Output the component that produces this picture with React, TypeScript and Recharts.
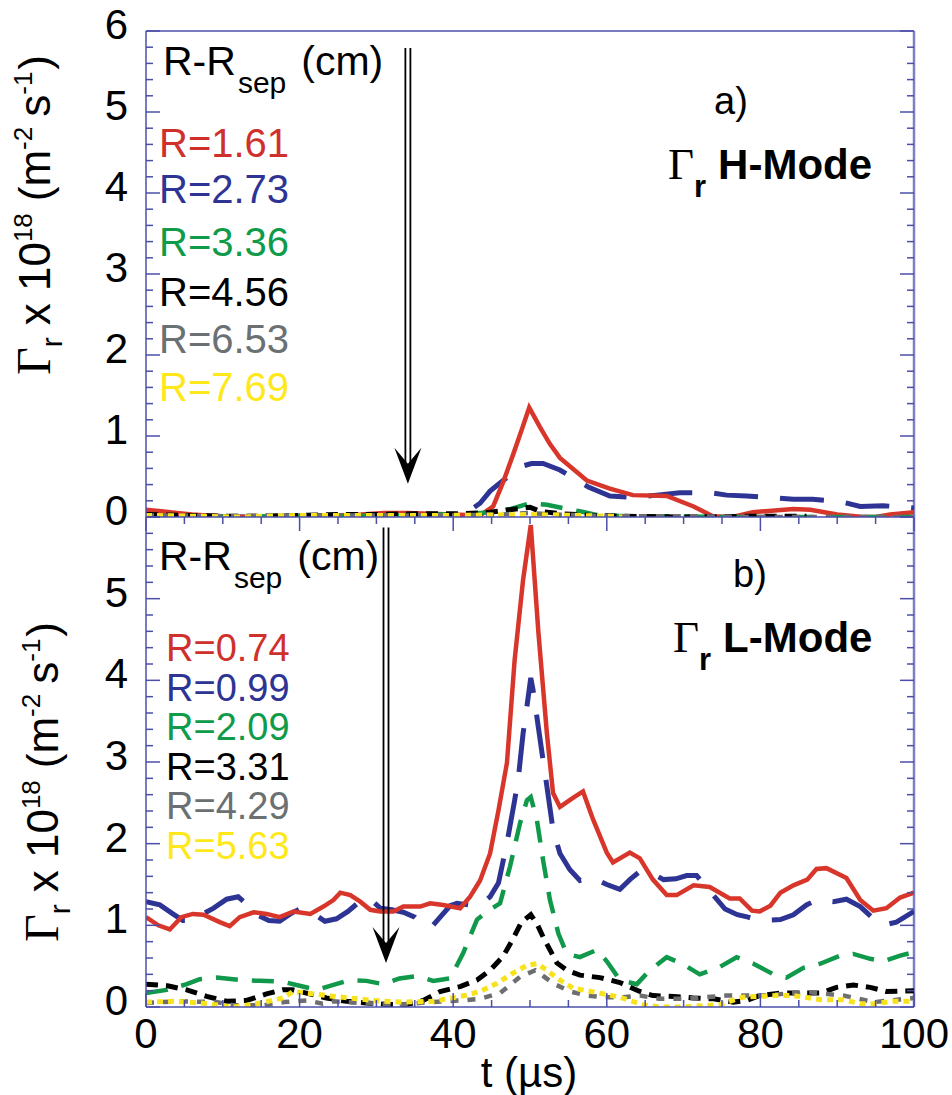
import { LineChart, Line, XAxis, YAxis, ReferenceLine } from "recharts";

const SANS = "'Liberation Sans', Arial, Helvetica, sans-serif";
const SERIF = "'Liberation Serif', 'Times New Roman', serif";
const AXIS = "#4b4fa8";

// axis ticks
const X_TICKS = [0, 5, 10, 15, 20, 25, 30, 35, 40, 45, 50, 55, 60, 65, 70, 75, 80, 85, 90, 95, 100];
const X_LABELS = [0, 20, 40, 60, 80, 100];
const Y_TICKS = [
  0, 0.2, 0.4, 0.6, 0.8, 1, 1.2, 1.4, 1.6, 1.8, 2, 2.2, 2.4, 2.6, 2.8, 3, 3.2, 3.4, 3.6, 3.8, 4,
  4.2, 4.4, 4.6, 4.8, 5, 5.2, 5.4, 5.6, 5.8, 6,
];
const Y_LABELS_H = [0, 1, 2, 3, 4, 5, 6];
const Y_LABELS_L = [0, 1, 2, 3, 4, 5];

// a) H-mode, [t (us), flux]
const hR161 = [
  [0, 0.09], [2, 0.07], [4, 0.05], [6, 0.03], [8, 0.02], [10, 0.01], [13, 0], [16, 0], [19, 0.01],
  [22, 0.01], [25, 0.02], [28, 0.03], [31, 0.05], [34, 0.05], [37, 0.04], [40, 0.03], [43.5, 0.02],
  [45.2, 0.13], [46.5, 0.43], [47.8, 0.77], [48.9, 1.07], [49.9, 1.35], [51.3, 1.11], [52.6, 0.9],
  [53.9, 0.73], [57.4, 0.45], [60.4, 0.35], [63.4, 0.27], [67.8, 0.26], [71.3, 0.13], [73.8, 0.01],
  [76.4, 0], [79, 0.06], [84.3, 0.1], [86.5, 0.09], [90, 0.03], [93.4, 0], [95, 0], [96.9, 0.03], [100, 0.06],
];
const hR273 = [
  [0, 0.03], [6, 0.01], [12, 0], [18, 0.01], [24, 0.02], [30, 0.02], [36, 0.02], [40, 0.03], [42, 0.07],
  [43.5, 0.17], [44.8, 0.32], [46.5, 0.45], [48.7, 0.62], [50.2, 0.66], [51.7, 0.66], [53.9, 0.58],
  [57.6, 0.37], [60.4, 0.26], [63.4, 0.24], [66.5, 0.27], [69.5, 0.3], [73.4, 0.3], [75.6, 0.27],
  [78.2, 0.26], [81, 0.24], [84.3, 0.22], [86.8, 0.22], [90.4, 0.19], [93, 0.13], [96, 0.14], [100, 0.11],
];
const hR336 = [
  [0, 0.01], [8, 0], [16, 0.01], [24, 0.01], [32, 0.02], [38, 0.03], [42, 0.04], [45, 0.06], [47.5, 0.1],
  [50, 0.17], [52.2, 0.15], [54.3, 0.11], [56.5, 0.07], [59, 0.02], [63, 0.01], [68, 0.01], [75, 0],
  [85, 0], [100, 0],
];
const hR456 = [
  [0, 0.03], [5, 0.02], [10, 0.01], [15, 0.01], [20, 0.02], [25, 0.03], [30, 0.03], [35, 0.04],
  [40, 0.04], [44, 0.05], [46.5, 0.08], [49, 0.11], [50, 0.12], [51.3, 0.07], [54, 0.04], [58, 0.02],
  [62, 0.01], [70, 0], [80, 0.01], [86, 0.01],
];
const hR653 = [
  [0, 0.02], [10, 0.01], [20, 0.02], [30, 0.02], [40, 0.02], [46, 0.03], [50, 0.05], [53, 0.03],
  [60, 0.01], [70, 0.01], [80, 0], [90, 0], [100, 0],
];
const hR769 = [
  [0, 0.02], [6, 0.01], [12, 0], [20, 0.02], [30, 0.02], [40, 0.02], [50, 0.03], [56, 0.02], [60, 0.01], [62, 0],
];

// b) L-mode
const lR074 = [
  [0, 1.1], [1.6, 1.0], [3.1, 0.95], [4.6, 1.1], [6.1, 1.14], [7.5, 1.13], [9.6, 1.04], [10.9, 0.99],
  [12.2, 1.1], [14, 1.16], [15.7, 1.14], [17.4, 1.1], [19.2, 1.17], [21.4, 1.14], [23.1, 1.23],
  [24.4, 1.31], [25.3, 1.4], [26.6, 1.37], [27.9, 1.29], [29.2, 1.19], [30.5, 1.17], [32.2, 1.17],
  [33.5, 1.23], [35.7, 1.23], [37, 1.27], [38.7, 1.25], [40.9, 1.21], [42.2, 1.35], [43.5, 1.55],
  [44.8, 1.88], [45.9, 2.41], [47, 2.99], [48, 4.25], [49.1, 5.23], [50.1, 5.9], [51.1, 4.58],
  [52.2, 3.35], [53, 2.62], [53.9, 2.45], [55.6, 2.56], [56.9, 2.64], [58.2, 2.3], [60, 1.89],
  [60.8, 1.77], [63, 1.89], [64.3, 1.82], [66, 1.56], [67.8, 1.37], [69.1, 1.37], [71.3, 1.49],
  [73.4, 1.47], [76, 1.33], [77.3, 1.33], [78.9, 1.18], [79.9, 1.17], [81.3, 1.24], [82.6, 1.4],
  [84.3, 1.49], [86.1, 1.56], [87.3, 1.69], [88.6, 1.7], [91.2, 1.58], [93, 1.31], [94.7, 1.18],
  [96.4, 1.21], [98.2, 1.34], [100, 1.4],
];
const lR099 = [
  [0, 1.29], [1.8, 1.25], [3.5, 1.14], [4.8, 1.06], [5.7, 1.06], [7.2, 1.13], [8.8, 1.21], [10.5, 1.32],
  [12, 1.35], [13.1, 1.26], [14.6, 1.12], [16, 1.06], [17.4, 1.05], [18.8, 1.14], [20, 1.2], [20.9, 1.19],
  [22.2, 1.12], [23.3, 1.05], [24.8, 1.08], [26.3, 1.17], [28.3, 1.33], [29.2, 1.32], [30.5, 1.21],
  [32, 1.19], [33.5, 1.16], [35, 1.1], [36.1, 1.01], [37.2, 0.98], [38.3, 1.1], [39.6, 1.24], [40.5, 1.27],
  [42, 1.25], [43.5, 1.25], [44.8, 1.35], [45.9, 1.52], [47, 2.01], [48, 2.53], [48.5, 2.82], [49.1, 3.35],
  [49.6, 3.68], [50.1, 4.03], [50.4, 3.88], [50.9, 3.55], [51.7, 3.02], [52.2, 2.7], [53, 2.17],
  [53.9, 1.88], [55.2, 1.68], [56.5, 1.55], [58.2, 1.58], [60, 1.5], [61.7, 1.44], [63, 1.56],
  [64.3, 1.66], [65.6, 1.65], [67.4, 1.56], [69, 1.57], [70.4, 1.61], [71.7, 1.61], [73.4, 1.42],
  [75.4, 1.2], [77, 1.13], [78.4, 1.1], [79.9, 1.06], [82.6, 1.07], [84.3, 1.13], [86, 1.25], [87.3, 1.31],
  [89.5, 1.29], [91.2, 1.32], [93, 1.23], [94.5, 1.1], [96, 1.0], [97.7, 1.04], [100, 1.17],
];
const lR209 = [
  [0, 0.17], [2.7, 0.21], [5.3, 0.28], [7, 0.34], [9.2, 0.36], [12.2, 0.33], [14.8, 0.32], [17.8, 0.31],
  [20, 0.26], [22.2, 0.21], [24.4, 0.27], [26.6, 0.33], [28.7, 0.32], [30.9, 0.28], [33, 0.35],
  [35.3, 0.38], [37.4, 0.32], [39.6, 0.35], [41.3, 0.66], [43.1, 1.07], [44.4, 1.17], [46.1, 1.27],
  [47.4, 1.72], [48.7, 2.25], [49.6, 2.53], [50.1, 2.57], [50.9, 2.29], [51.7, 1.8], [52.6, 1.31],
  [53.7, 0.9], [54.8, 0.65], [56.5, 0.61], [58.7, 0.7], [60, 0.56], [61.7, 0.33], [63.9, 0.28],
  [65.6, 0.45], [67.8, 0.61], [70, 0.52], [72.1, 0.4], [74.7, 0.49], [76.9, 0.61], [79.1, 0.53],
  [81.7, 0.4], [83.4, 0.36], [85.6, 0.48], [87.8, 0.53], [90.4, 0.63], [92.1, 0.65], [94.3, 0.59],
  [96, 0.56], [98.2, 0.63], [100, 0.67],
];
const lR331 = [
  [0, 0.28], [2.8, 0.26], [5.3, 0.21], [7.9, 0.13], [10.5, 0.07], [13.1, 0.08], [15.7, 0.16], [17.8, 0.21],
  [19.1, 0.21], [20.9, 0.17], [23.5, 0.11], [26.1, 0.07], [28.7, 0.05], [31.3, 0.03], [33.9, 0.03],
  [36.1, 0.08], [38.3, 0.19], [40.9, 0.25], [43.1, 0.33], [44.8, 0.45], [46.5, 0.62], [47.7, 0.82],
  [48.9, 1.04], [50.1, 1.13], [50.9, 1.02], [51.7, 0.86], [52.6, 0.7], [53.5, 0.54], [54.8, 0.45],
  [56.5, 0.39], [59.1, 0.36], [61.7, 0.3], [64.3, 0.19], [66, 0.14], [68.7, 0.13], [71.3, 0.11],
  [73.9, 0.1], [76.5, 0.06], [78.2, 0.08], [79.9, 0.14], [82.6, 0.17], [85.2, 0.17], [87.8, 0.17],
  [89.9, 0.24], [92.1, 0.27], [94.3, 0.24], [96.4, 0.19], [100, 0.2],
];
const lR429 = [
  [0, 0.05], [4.4, 0.07], [9.2, 0.06], [11.4, 0.02], [15.3, 0.02], [18, 0.06], [21, 0.08], [23, 0.04],
  [24.4, 0.07], [28, 0.05], [33, 0.03], [37, 0.06], [41, 0.08], [43.5, 0.1], [46.1, 0.17], [48.7, 0.37],
  [50.7, 0.45], [53, 0.29], [55.2, 0.19], [57.4, 0.14], [59.5, 0.12], [62, 0.12], [64.3, 0.14],
  [66.8, 0.1], [70, 0.1], [75.5, 0.14], [80, 0.14], [84.3, 0.17], [86.5, 0.18], [90.8, 0.14],
  [94.8, 0.06], [100, 0.11],
];
const lR563 = [
  [0, 0.06], [3.8, 0.07], [7, 0.05], [11.4, 0], [15, 0.05], [17.8, 0.11], [19.2, 0.19], [21, 0.17],
  [23.5, 0.14], [26.6, 0.11], [29.6, 0.08], [33, 0.06], [37.4, 0.07], [41.5, 0.14], [43.5, 0.19],
  [45.7, 0.29], [47.7, 0.41], [49.6, 0.51], [50.9, 0.53], [52.2, 0.45], [53.9, 0.33], [55.6, 0.23],
  [59.1, 0.17], [61.7, 0.12], [64.6, 0.03], [66.8, 0], [70, 0], [74.7, 0.03], [77.7, 0.12], [82, 0.14],
  [84.3, 0.14], [87.8, 0.09], [90.8, 0.09], [93, 0.04], [94.8, 0.04], [97.3, 0.07], [100, 0.07],
];

const H_SERIES = [hR161, hR273, hR336, hR456, hR653, hR769];
const L_SERIES = [lR074, lR099, lR209, lR331, lR429, lR563];
const H_NAMES = ["R=1.61", "R=2.73", "R=3.36", "R=4.56", "R=6.53", "R=7.69"];
const L_NAMES = ["R=0.74", "R=0.99", "R=2.09", "R=3.31", "R=4.29", "R=5.63"];

const COLORS = ["#d8362b", "#2e3494", "#10994a", "#000000", "#6e6e70", "#f7e21c"];
const TEXT_COLORS = ["#d0302c", "#2e3494", "#0f9b4a", "#000000", "#6b7073", "#ffe81a"];
const DASHES = [undefined, "44 22", "22 14", "12 8", "8 9", "6 5"];
const WIDTHS = [4.5, 5, 4.5, 5, 4.5, 5];
const DRAW_ORDER = [1, 0, 2, 3, 4, 5];

const PL = 146;
const PR = 914;

const toPts = (a: number[][]) => a.map(([t, v]) => ({ t, v }));

const makeYTick = (labels: number[]) => (p: any) => {
  const v = p.payload.value;
  const y = p.y;
  const major = Number.isInteger(v);
  const len = major ? 14 : 7;
  return (
    <g>
      <line x1={PL} x2={PL + len} y1={y} y2={y} stroke={AXIS} strokeWidth={1.5} />
      <line x1={PR - len} x2={PR} y1={y} y2={y} stroke={AXIS} strokeWidth={1.5} />
      {labels.includes(v) && (
        <text x={128} y={y + 8} textAnchor="end" fontFamily={SANS} fontSize={42} fill="#000">
          {v}
        </text>
      )}
    </g>
  );
};

const makeXTick = (top: number, bottom: number, labels: number[]) => (p: any) => {
  const v = p.payload.value;
  const x = p.x;
  const len = v % 20 === 0 ? 14 : 7;
  return (
    <g>
      <line x1={x} x2={x} y1={bottom} y2={bottom - len} stroke={AXIS} strokeWidth={1.5} />
      <line x1={x} x2={x} y1={top} y2={top + len} stroke={AXIS} strokeWidth={1.5} />
      {labels.includes(v) && (
        <text x={x} y={bottom + 41} textAnchor="middle" fontFamily={SANS} fontSize={42} fill="#000">
          {v}
        </text>
      )}
    </g>
  );
};

function DoubleArrow(p: any) {
  const { x1, y1, y2 } = p;
  const head = 36;
  const half = 13.5;
  const notch = 20;
  return (
    <g>
      <line x1={x1 - 2.5} x2={x1 - 2.5} y1={y1} y2={y2 - notch} stroke="#000" strokeWidth={1.8} />
      <line x1={x1 + 2.5} x2={x1 + 2.5} y1={y1} y2={y2 - notch} stroke="#000" strokeWidth={1.8} />
      <polygon
        points={`${x1},${y2} ${x1 - half},${y2 - head} ${x1},${y2 - notch} ${x1 + half},${y2 - head}`}
        fill="#000"
      />
    </g>
  );
}

function YTitle({ x, y }: { x: number; y: number }) {
  return (
    <text x={x} y={y} transform={`rotate(-90, ${x}, ${y})`} textAnchor="middle" fontFamily={SANS} fontSize={44} fill="#000">
      <tspan fontFamily={SERIF} fontSize={48}>Γ</tspan>
      <tspan fontSize={30} dy={12}>r</tspan>
      <tspan dy={-12} dx={12}>x 10</tspan>
      <tspan fontSize={26} dy={-18}>18</tspan>
      <tspan dy={18} dx={12}>(m</tspan>
      <tspan fontSize={26} dy={-18}>-2</tspan>
      <tspan dy={18} dx={10}>s</tspan>
      <tspan fontSize={26} dy={-18}>-1</tspan>
      <tspan dy={18} dx={2}>)</tspan>
    </text>
  );
}

function SepTitle({ x, y }: { x: number; y: number }) {
  return (
    <text x={x} y={y} fontFamily={SANS} fontSize={41} fill="#000">
      R-R
      <tspan fontSize={30} dy={18} dx={2}>sep</tspan>
      <tspan dy={-18} dx={15}>(cm)</tspan>
    </text>
  );
}

function ModeTitle({ x, y, mode }: { x: number; y: number; mode: string }) {
  return (
    <text x={x} y={y} fontFamily={SANS} fontSize={42} fontWeight="bold" fill="#000">
      <tspan fontFamily={SERIF} fontWeight="normal" fontSize={45}>Γ</tspan>
      <tspan fontSize={31} dy={18}>r</tspan>
      <tspan dy={-18} dx={12}>{mode}</tspan>
    </text>
  );
}

function Legend({ x, ys, names, size }: { x: number; ys: number[]; names: string[]; size: number }) {
  return (
    <g>
      {names.map((n, i) => (
        <text key={n} x={x} y={ys[i]} fontFamily={SANS} fontSize={size} fill={TEXT_COLORS[i]}>
          {n}
        </text>
      ))}
    </g>
  );
}

function series(data: number[][][], prefix: string) {
  return DRAW_ORDER.map((i) => (
    <Line
      key={prefix + i}
      data={toPts(data[i])}
      dataKey="v"
      type="linear"
      dot={false}
      activeDot={false}
      stroke={COLORS[i]}
      strokeWidth={WIDTHS[i]}
      strokeDasharray={DASHES[i]}
      isAnimationActive={false}
    />
  ));
}

const OFF = 497; // page y of the lower chart's svg

export default function App() {
  return (
    <div style={{ position: "absolute", left: 0, top: 0, width: 952, height: 1095, background: "#fff" }}>
      <div style={{ position: "absolute", left: 0, top: 0 }}>
        <LineChart width={952} height={537} margin={{ top: 31, right: 38, bottom: 20, left: 0 }}>
          <XAxis
            dataKey="t"
            type="number"
            domain={[0, 100]}
            allowDataOverflow
            ticks={X_TICKS}
            interval={0}
            height={0}
            tickLine={false}
            axisLine={{ stroke: AXIS, strokeWidth: 1.5 }}
            tick={makeXTick(31, 517, [])}
          />
          <YAxis
            type="number"
            domain={[0, 6]}
            allowDataOverflow
            ticks={Y_TICKS}
            interval={0}
            width={146}
            tickLine={false}
            axisLine={{ stroke: AXIS, strokeWidth: 1.5 }}
            tick={makeYTick(Y_LABELS_H)}
          />
          <ReferenceLine y={6} stroke={AXIS} strokeWidth={1.5} />
          <ReferenceLine x={100} stroke="#7d80c2" strokeWidth={2.5} />
          {series(H_SERIES, "h")}
          <ReferenceLine segment={[{ x: 34.1, y: 5.79 }, { x: 34.1, y: 0.41 }]} shape={DoubleArrow} />
          <SepTitle x={163} y={75} />
          <Legend x={159} ys={[157, 203, 256, 306, 353, 401]} names={H_NAMES} size={40} />
          <text x={714} y={114} fontFamily={SANS} fontSize={38} fill="#000">a)</text>
          <ModeTitle x={668} y={179} mode="H-Mode" />
          <YTitle x={50} y={215} />
        </LineChart>
      </div>
      <div style={{ position: "absolute", left: 0, top: OFF }}>
        <LineChart width={952} height={598} margin={{ top: 20, right: 38, bottom: 0, left: 0 }}>
          <XAxis
            dataKey="t"
            type="number"
            domain={[0, 100]}
            allowDataOverflow
            ticks={X_TICKS}
            interval={0}
            height={88}
            tickLine={false}
            axisLine={{ stroke: AXIS, strokeWidth: 1.5 }}
            tick={makeXTick(20, 510, X_LABELS)}
          />
          <YAxis
            type="number"
            domain={[0, 6]}
            allowDataOverflow
            ticks={Y_TICKS}
            interval={0}
            width={146}
            tickLine={false}
            axisLine={{ stroke: AXIS, strokeWidth: 1.5 }}
            tick={makeYTick(Y_LABELS_L)}
          />
          <ReferenceLine y={6} stroke={AXIS} strokeWidth={1.5} />
          <ReferenceLine x={100} stroke="#7d80c2" strokeWidth={2.5} />
          {series(L_SERIES, "l")}
          <ReferenceLine segment={[{ x: 31.25, y: 5.87 }, { x: 31.25, y: 0.54 }]} shape={DoubleArrow} />
          <SepTitle x={159} y={570 - OFF} />
          <Legend x={166} ys={[661, 701, 740, 780, 819, 859].map((v) => v - OFF)} names={L_NAMES} size={38} />
          <text x={733} y={587 - OFF} fontFamily={SANS} fontSize={38} fill="#000">b)</text>
          <ModeTitle x={673} y={652 - OFF} mode="L-Mode" />
          <YTitle x={58} y={782 - OFF} />
          <text x={529} y={1087 - OFF} textAnchor="middle" fontFamily={SANS} fontSize={42} fill="#000">
            t (µs)
          </text>
        </LineChart>
      </div>
    </div>
  );
}
